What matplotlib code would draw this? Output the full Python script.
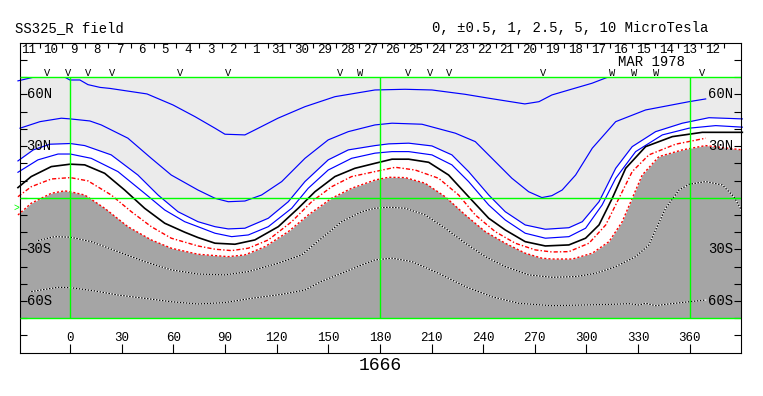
import matplotlib.pyplot as plt
from matplotlib.patches import Rectangle

plt.rcParams['font.family'] = ['Liberation Mono', 'DejaVu Sans Mono']

# Contour traces: Carrington longitude / latitude
# +5 uT
pos5_lon = [-30.4, -20.5, -11.8, -3.1, -0.2, 5.6, 10.3, 17.3, 23.1, 44.6, 59.7, 72.5, 84.1, 89.9,
            101.5, 107.3, 120.7, 136.4, 153.8, 177.1, 194.5, 210.2, 229.4, 243.3, 264.2, 272.4,
            279.9, 289.8, 303.2, 313.1, 319.5]
pos5_lat = [67.9, 70.2, 71.3, 70.0, 68.4, 68.4, 65.7, 64.1, 63.5, 60.3, 53.9, 47.1, 40.4, 36.9,
            36.5, 39.4, 46.2, 52.9, 58.7, 62.6, 63.0, 62.6, 60.1, 57.8, 54.5, 55.8,
            59.7, 62.6, 66.5, 70.3, 71.9]
# +2.5 uT
pos25_lon = [-29.2, -17.6, -5.2, 0, 11.4, 18.0, 33.5, 47.1, 58.7, 74.2, 84.1, 91.8, 101.5, 111.2,
             122.9, 136.4, 149.9, 161.6, 177.1, 187.0, 204.4, 223.8, 235.4, 245.1, 256.7, 266.4,
             274.1, 279.9, 285.9, 293.7, 303.4, 317.0, 334.4, 359.6, 369.3]
pos25_lat = [40.4, 44.2, 46.2, 45.8, 44.6, 42.3, 34.6, 22.9, 13.2, 4.5, -0.3, -2.3, -1.9, 1.6,
             9.4, 22.9, 33.6, 38.4, 42.3, 43.3, 42.7, 37.5, 32.6, 22.9, 11.3, 3.5,
             0.1, 1.2, 4.5, 13.2, 28.8, 44.2, 51.0, 55.8, 57.4]
# +1 uT
pos1_lon = [-30.4, -21.5, -11.8, 0, 8.4, 23.8, 39.3, 51.0, 62.6, 74.2, 84.1, 91.8, 101.5, 115.1,
            126.7, 136.4, 149.9, 161.6, 177.1, 185.1, 196.7, 210.2, 221.8, 231.5, 243.2, 252.8,
            264.4, 276.1, 289.8, 297.6, 307.3, 317.0, 326.6, 340.2, 355.7, 371.2, 390.6]
pos1_lat = [21.4, 27.8, 31.1, 31.5, 30.3, 24.9, 13.2, 1.6, -8.1, -13.9, -16.8, -18.1, -17.7, -11.9,
            -2.3, 9.4, 22.0, 27.8, 30.3, 31.3, 31.7, 30.1, 24.9, 15.2, 1.6, -8.1,
            -15.8, -18.3, -17.4, -13.9, -2.3, 17.1, 29.7, 38.4, 43.3, 46.5, 45.8]
# +0.5 uT
pos05_lon = [-30.4, -18.8, -7.1, 0, 12.2, 27.7, 43.2, 54.9, 66.5, 74.2, 84.1, 93.8, 103.5, 115.1,
             128.7, 138.3, 149.9, 163.5, 177.1, 187.0, 196.7, 210.2, 221.8, 231.5, 243.2, 252.8,
             264.4, 276.1, 289.8, 299.5, 309.1, 317.0, 328.6, 344.1, 359.6, 375.1, 390.6]
pos05_lat = [14.8, 22.0, 25.4, 25.4, 22.9, 15.2, 2.6, -7.1, -13.9, -16.8, -20.6, -22.6, -21.6, -16.8,
             -6.1, 5.5, 16.1, 22.9, 25.9, 26.8, 26.8, 24.9, 19.1, 9.4, -4.2, -12.9,
             -20.6, -23.5, -22.6, -17.7, -4.2, 11.3, 26.8, 36.5, 40.4, 41.9, 41.0]
# neutral line
zero_lon = [-30.4, -22.7, -11.0, 0, 8.4, 20.0, 31.6, 43.2, 54.9, 66.5, 74.2, 84.1, 95.7, 107.3,
            120.9, 132.5, 142.2, 153.8, 165.4, 177.1, 187.0, 196.7, 208.3, 219.9, 231.5, 243.2,
            252.8, 264.4, 276.1, 289.8, 299.5, 307.3, 315.0, 322.8, 334.4, 349.9, 367.3, 390.6]
zero_lat = [5.9, 12.3, 18.1, 19.5, 19.1, 14.2, 4.5, -6.1, -14.8, -20.0, -23.1, -26.4, -27.0, -24.5,
            -16.8, -6.1, 3.5, 12.3, 17.1, 20.0, 22.4, 22.4, 20.6, 13.2, 0.6, -11.9,
            -18.7, -25.5, -28.0, -27.4, -23.5, -15.8, -0.3, 17.1, 29.7, 35.5, 38.0, 38.0]
# -0.5 uT
neg05_lon = [-30.4, -22.7, -11.0, 0, 10.3, 23.8, 35.5, 47.1, 58.7, 74.2, 84.1, 93.8, 103.5, 115.1,
             128.7, 140.3, 151.9, 163.5, 177.1, 188.9, 200.5, 214.1, 225.7, 235.4, 247.0, 258.6,
             270.3, 280.0, 289.8, 301.5, 311.2, 318.9, 326.6, 336.3, 351.8, 369.3]
neg05_lat = [0.6, 6.4, 10.9, 11.7, 9.8, 1.6, -8.1, -16.8, -23.5, -28.0, -29.9, -30.7, -29.3, -24.5,
             -13.9, -2.3, 6.4, 12.3, 15.2, 17.7, 16.1, 11.3, 1.6, -10.0, -19.7, -26.4,
             -30.3, -31.5, -31.3, -26.4, -15.8, -0.3, 15.2, 24.9, 31.1, 34.6]
# -1 uT
neg1_lon = [-30.4, -22.7, -11.0, -3.3, 0, 8.4, 20.0, 33.5, 47.1, 58.7, 74.2, 84.1, 91.8, 101.5,
            113.2, 126.7, 138.3, 151.9, 163.5, 177.1, 185.1, 194.7, 206.3, 217.9, 229.6, 241.2,
            252.8, 264.4, 274.1, 280.0, 291.8, 303.4, 313.1, 320.8, 326.6, 332.4, 342.1, 355.7,
            369.3, 390.6]
neg1_lat = [-10.0, -3.2, 2.6, 4.0, 3.5, 1.6, -6.1, -16.8, -24.5, -29.3, -32.8, -33.6, -34.2, -33.2,
            -28.4, -19.7, -10.0, -0.3, 5.5, 10.3, 11.9, 11.7, 8.4, 0.6, -10.0, -19.7,
            -26.4, -32.2, -35.1, -35.6, -35.6, -32.2, -25.5, -13.9, -0.3, 13.2, 23.9, 27.8,
            30.3, 27.8]
# -2.5 uT
neg25_lon = [-18.8, -9.1, 0, 12.2, 27.7, 43.2, 58.7, 74.2, 89.9, 103.5, 120.9, 134.5, 146.1, 157.7,
             169.4, 177.1, 185.1, 194.7, 206.3, 217.9, 229.6, 241.2, 252.8, 266.4, 280.0, 293.7,
             305.3, 317.0, 328.6, 336.3, 340.2, 346.0, 353.8, 359.6, 369.3, 379.0, 385.7, 390.0]
neg25_lat = [-24.9, -22.6, -22.9, -25.5, -31.3, -37.1, -41.9, -44.3, -44.8, -42.9, -38.0, -33.2, -23.5, -13.9,
             -8.1, -6.1, -5.5, -6.1, -10.0, -17.7, -26.4, -34.2, -40.0, -44.8, -46.2, -45.8,
             -43.9, -40.0, -34.2, -27.4, -18.7, -6.1, 4.5, 7.8, 9.4, 7.4, 0.6, -7.1]
# -5 uT
neg5_lon = [-22.7, -7.1, 0, 14.2, 27.7, 43.2, 58.7, 74.2, 89.9, 105.4, 122.9, 136.4, 146.1, 157.7,
            169.4, 177.1, 187.0, 198.6, 214.1, 229.6, 245.1, 260.6, 280.0, 297.6, 315.0, 324.7,
            330.5, 334.4, 340.2, 346.0, 359.6, 369.3]
neg5_lat = [-54.5, -52.0, -52.2, -54.1, -56.5, -58.4, -60.4, -61.7, -60.9, -58.4, -56.1, -53.6, -48.5, -43.9,
            -39.0, -36.1, -35.1, -37.1, -43.9, -51.6, -57.5, -61.3, -62.7, -62.3, -61.9, -61.5,
            -62.3, -61.3, -62.7, -61.9, -60.4, -59.4]

# observation markers along the top
mark_lon = [-13.7, -1.2, 10.5, 24.1, 63.8, 91.5, 156.7, 168.4, 196.4, 209.1, 220.3, 274.9,
            315.0, 327.8, 340.4, 367.0]
mark_sym = ['V', 'V', 'V', 'V', 'V', 'V', 'V', 'W', 'V', 'V', 'V', 'V', 'W', 'W', 'W', 'V']

# day-of-month boundaries (longitude) and labels between them
day_bounds = [-31.0, -17.8, -4.6, 8.7, 21.9, 35.2, 48.4, 61.7, 74.9, 88.2, 101.4, 114.7, 127.9,
              141.2, 154.4, 167.7, 180.9, 194.2, 207.4, 220.7, 233.9, 247.2, 260.4, 273.7, 286.9,
              300.2, 313.4, 326.7, 339.9, 353.2, 366.4, 379.7]
day_labels = ['11', '10', '9', '8', '7', '6', '5', '4', '3', '2', '1', '31', '30', '29', '28', '27',
              '26', '25', '24', '23', '22', '21', '20', '19', '18', '17', '16', '15', '14', '13', '12']

lon_ticks = list(range(0, 361, 30))
lat_label_vals = [60, 30, -30, -60]
lat_label_txt = ['60N', '30N', '30S', '60S']

W, H = 763, 396
fig = plt.figure(figsize=(W / 100, H / 100), dpi=100)
ax = fig.add_axes([19.5 / W, 1 - 352.7 / H, 721.8 / W, 309.9 / H])
ax.set_xlim(-29.5, 390)
ax.set_ylim(-90, 90)

# polarity shading
ax.fill_between(pos1_lon, pos1_lat, 70, color='#ebebeb', lw=0, zorder=0)
ax.fill_between(neg1_lon, -70, neg1_lat, color='#a5a5a5', lw=0, zorder=0)

clip = Rectangle((-40, -70), 440, 140, transform=ax.transData)

lines = []
for lo, la in [(pos5_lon, pos5_lat), (pos25_lon, pos25_lat), (pos1_lon, pos1_lat),
               (pos05_lon, pos05_lat)]:
    lines += ax.plot(lo, la, color='#0000ff', lw=0.85, zorder=2)
lines += ax.plot(zero_lon, zero_lat, color='black', lw=1.2, zorder=2)
lines += ax.plot(neg05_lon, neg05_lat, color='red', lw=1.0, ls=(0, (3, 1.5, 1, 1.5)), zorder=2)
lines += ax.plot(neg1_lon, neg1_lat, color='red', lw=1.0, ls=(0, (1.5, 1.5)), zorder=2)
for lo, la in [(neg25_lon, neg25_lat), (neg5_lon, neg5_lat)]:
    lines += ax.plot(lo, la, color='white', lw=0.9, zorder=2)
    lines += ax.plot(lo, la, color='black', lw=0.9, ls=(0, (1.2, 1.2)), zorder=2)
for ln in lines:
    ln.set_clip_path(clip)

# green reference lines
ax.hlines([70, 0, -70], -29.5, 390, colors='#00ff00', lw=1.0, zorder=4)
ax.vlines([0, 180, 360], -70, 70, colors='#00ff00', lw=1.0, zorder=4)

# axis ticks
ax.set_yticks(range(-80, 81, 10))
ax.set_xticks(lon_ticks)
ax.tick_params(axis='y', direction='in', length=4.8, width=0.8, left=True, right=True,
               labelleft=False)
ax.tick_params(axis='x', direction='in', length=6.5, width=0.8, bottom=True, top=False,
               labelbottom=False)
for s in ax.spines.values():
    s.set_linewidth(0.8)

for lon in lon_ticks:
    ax.annotate(str(lon), xy=(lon, 0), xycoords=('data', 'axes fraction'), xytext=(0, 15),
                textcoords='offset pixels', ha='center', va='center', fontsize=9)

for v, t in zip(lat_label_vals, lat_label_txt):
    ax.annotate(t, xy=(0, v), xycoords=('axes fraction', 'data'), xytext=(7, 0),
                textcoords='offset pixels', ha='left', va='center', fontsize=10, zorder=5)
    ax.annotate(t, xy=(1, v), xycoords=('axes fraction', 'data'), xytext=(-8, 0),
                textcoords='offset pixels', ha='right', va='center', fontsize=10, zorder=5)

# day boundaries and day labels along the top
ax.vlines(day_bounds[1:], 87.1, 90, colors='black', lw=0.8)
for i, lab in enumerate(day_labels):
    mid = (day_bounds[i] + day_bounds[i + 1]) / 2
    ax.text(mid, 85.9, lab, ha='center', va='center', fontsize=9)
ax.text(338, 78.6, 'MAR 1978', ha='center', va='center', fontsize=10)

for lon, sym in zip(mark_lon, mark_sym):
    ax.text(lon, 72.3, sym, ha='center', va='center', fontsize=7.5)

fig.text(16.5 / W, 1 - 207.5 / H, '>', color='#00ff00', fontsize=7, ha='center', va='center')
fig.text(15 / W, 1 - 32 / H, 'SS325_R field', fontsize=10, va='baseline')
fig.text(431.7 / W, 1 - 32 / H, '0, \u00b10.5, 1, 2.5, 5, 10 MicroTesla', fontsize=10,
         va='baseline')
fig.text(380 / W, 1 - 366 / H, '1666', ha='center', va='center', fontsize=13)

fig.savefig('out.png', dpi=100)
